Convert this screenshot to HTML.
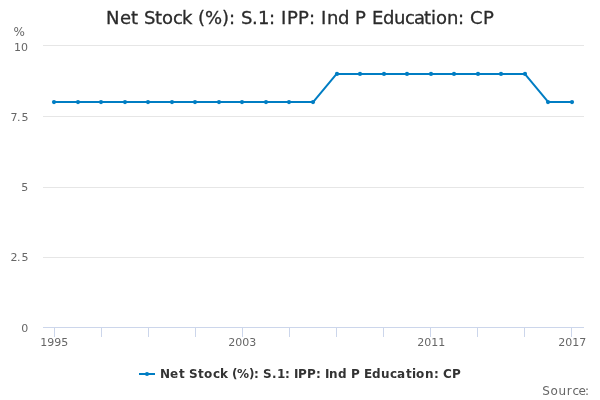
<!DOCTYPE html><html><head><meta charset="utf-8"><title>Net Stock</title><style>html,body{margin:0;padding:0;background:#fff}svg{display:block;font-family:"DejaVu Sans","Liberation Sans",sans-serif}</style></head><body>
<svg width="600" height="400" viewBox="0 0 600 400">
<rect x="0" y="0" width="600" height="400" fill="#ffffff"/>
<path d="M 43 45.5 L 584 45.5" stroke="#e6e6e6" stroke-width="1" fill="none"/>
<path d="M 43 116.5 L 584 116.5" stroke="#e6e6e6" stroke-width="1" fill="none"/>
<path d="M 43 187.5 L 584 187.5" stroke="#e6e6e6" stroke-width="1" fill="none"/>
<path d="M 43 257.5 L 584 257.5" stroke="#e6e6e6" stroke-width="1" fill="none"/>
<path d="M 43 327.5 L 584 327.5" stroke="#e6e6e6" stroke-width="1" fill="none"/>
<path d="M 43 327.5 L 584 327.5" stroke="#ccd6eb" stroke-width="1" fill="none"/>
<path d="M 54.5 327 L 54.5 337" stroke="#ccd6eb" stroke-width="1" fill="none"/>
<path d="M 101.5 327 L 101.5 337" stroke="#ccd6eb" stroke-width="1" fill="none"/>
<path d="M 148.5 327 L 148.5 337" stroke="#ccd6eb" stroke-width="1" fill="none"/>
<path d="M 195.5 327 L 195.5 337" stroke="#ccd6eb" stroke-width="1" fill="none"/>
<path d="M 242.5 327 L 242.5 337" stroke="#ccd6eb" stroke-width="1" fill="none"/>
<path d="M 289.5 327 L 289.5 337" stroke="#ccd6eb" stroke-width="1" fill="none"/>
<path d="M 336.5 327 L 336.5 337" stroke="#ccd6eb" stroke-width="1" fill="none"/>
<path d="M 383.5 327 L 383.5 337" stroke="#ccd6eb" stroke-width="1" fill="none"/>
<path d="M 430.5 327 L 430.5 337" stroke="#ccd6eb" stroke-width="1" fill="none"/>
<path d="M 477.5 327 L 477.5 337" stroke="#ccd6eb" stroke-width="1" fill="none"/>
<path d="M 524.5 327 L 524.5 337" stroke="#ccd6eb" stroke-width="1" fill="none"/>
<path d="M 571.5 327 L 571.5 337" stroke="#ccd6eb" stroke-width="1" fill="none"/>
<path d="M 54.36 102.10 L 77.88 102.10 L 101.40 102.10 L 124.93 102.10 L 148.45 102.10 L 171.97 102.10 L 195.49 102.10 L 219.01 102.10 L 242.53 102.10 L 266.06 102.10 L 289.58 102.10 L 313.10 102.10 L 336.62 73.90 L 360.14 73.90 L 383.67 73.90 L 407.19 73.90 L 430.71 73.90 L 454.23 73.90 L 477.75 73.90 L 501.27 73.90 L 524.80 73.90 L 548.32 102.10 L 571.84 102.10" stroke="#007dc3" stroke-width="2" fill="none" stroke-linejoin="round" stroke-linecap="round"/>
<circle cx="54" cy="102.10" r="2.1" fill="#007dc3"/>
<circle cx="78" cy="102.10" r="2.1" fill="#007dc3"/>
<circle cx="101" cy="102.10" r="2.1" fill="#007dc3"/>
<circle cx="125" cy="102.10" r="2.1" fill="#007dc3"/>
<circle cx="148" cy="102.10" r="2.1" fill="#007dc3"/>
<circle cx="172" cy="102.10" r="2.1" fill="#007dc3"/>
<circle cx="195" cy="102.10" r="2.1" fill="#007dc3"/>
<circle cx="219" cy="102.10" r="2.1" fill="#007dc3"/>
<circle cx="242" cy="102.10" r="2.1" fill="#007dc3"/>
<circle cx="266" cy="102.10" r="2.1" fill="#007dc3"/>
<circle cx="289" cy="102.10" r="2.1" fill="#007dc3"/>
<circle cx="313" cy="102.10" r="2.1" fill="#007dc3"/>
<circle cx="337" cy="73.90" r="2.1" fill="#007dc3"/>
<circle cx="360" cy="73.90" r="2.1" fill="#007dc3"/>
<circle cx="384" cy="73.90" r="2.1" fill="#007dc3"/>
<circle cx="407" cy="73.90" r="2.1" fill="#007dc3"/>
<circle cx="431" cy="73.90" r="2.1" fill="#007dc3"/>
<circle cx="454" cy="73.90" r="2.1" fill="#007dc3"/>
<circle cx="478" cy="73.90" r="2.1" fill="#007dc3"/>
<circle cx="501" cy="73.90" r="2.1" fill="#007dc3"/>
<circle cx="525" cy="73.90" r="2.1" fill="#007dc3"/>
<circle cx="548" cy="102.10" r="2.1" fill="#007dc3"/>
<circle cx="572" cy="102.10" r="2.1" fill="#007dc3"/>
<text x="106 120 131 138 144 155 162 173 182 192 198 205 222 229 235 241 252 258 269 275 281 287 298 309 315 321 327 338 349 355 366 372 383 394 405 414 424 431 436 447 458 464 470 483" y="24" font-size="18" fill="#2a2a2a" stroke="#2a2a2a" stroke-width="0.3">Net Stock (%): S.1: IPP: Ind P Education: CP</text>
<text x="21.2" y="332" font-size="11" fill="#666666">0</text>
<text x="10.6 17.1 21.4" y="261" font-size="11" fill="#666666">2.5</text>
<text x="21.3" y="191" font-size="11" fill="#666666">5</text>
<text x="10.5 17 21.5" y="121" font-size="11" fill="#666666">7.5</text>
<text x="14 21" y="51" font-size="11" fill="#666666">10</text>
<text x="13.4" y="36" font-size="12" fill="#666666">%</text>
<text x="40.3 47.3 54.3 61.3" y="346" font-size="11" fill="#666666">1995</text>
<text x="228.3 235.3 242.3 249.3" y="346" font-size="11" fill="#666666">2003</text>
<text x="417.3 424.3 431.3 438.3" y="346" font-size="11" fill="#666666">2011</text>
<text x="558.3 565.3 572.3 579.3" y="346" font-size="11" fill="#666666">2017</text>
<path d="M 139 374 L 155 374" stroke="#007dc3" stroke-width="2" fill="none"/>
<circle cx="147" cy="374" r="2.1" fill="#007dc3"/>
<text x="160 170 179 185 189 198 204 213 220 228 232 237 249 254 259 263 272 277 285 290 294 298 307 316 321 325 329 338 347 351 360 364 372 381 390 397 406 412 416 425 434 439 443 452" y="378" font-size="12" font-weight="bold" fill="#333333">Net Stock (%): S.1: IPP: Ind P Education: CP</text>
<text x="542.2 550.4 558.4 566.8 572.4 578.6 585.1" y="395" font-size="12" fill="#666666">Source:</text>
</svg></body></html>
